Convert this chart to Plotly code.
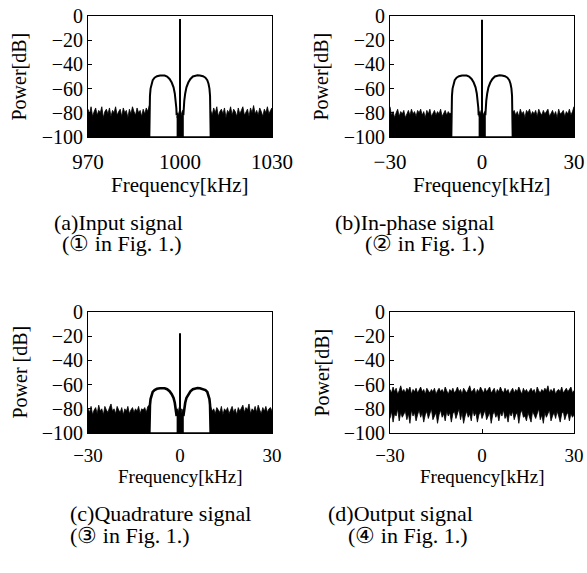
import numpy as np
import plotly.graph_objects as go

# figure fills the 587x573 window; the page's default body margin is removed
W, H = 587, 573
FONT = "Liberation Serif, Times New Roman, serif"

# ---------------- data ----------------
# noise floor, upper envelope (dB), sampled every 0.5 kHz
a_noise_left = [-77,-81,-75,-83,-79,-76,-82,-78,-80,-75,-84,-79,-77,-81,-76,-83,-78,-80,-75,-82,
                -79,-77,-83,-76,-80,-78,-84,-77,-81,-75,-79,-82,-76,-80,-78,-83,-77,-81,-76,-79,-74]
a_noise_right = [-78,-82,-76,-80,-75,-83,-79,-77,-81,-76,-84,-78,-80,-75,-82,-77,-79,-83,-76,-81,
                 -78,-75,-82,-79,-77,-83,-76,-80,-74,-81,-78,-82,-76,-79,-83,-77,-80,-75,-81,-78,-76]
a_noise_mid = [-84,-80,-82,-79,-81,-83,-80,-78,-82]

b_noise_left = [-75,-82,-79,-84,-80,-77,-83,-79,-81,-78,-84,-80,-78,-82,-77,-81,-79,-83,-78,-80,
                -77,-82,-79,-84,-78,-81,-77,-83,-80,-78,-82,-79,-81,-77,-83,-80,-78,-82,-79,-81,-80]
b_noise_right = [-80,-78,-82,-79,-83,-77,-81,-79,-84,-78,-80,-77,-82,-79,-81,-78,-83,-77,-80,-82,
                 -78,-81,-79,-77,-83,-80,-78,-82,-79,-84,-77,-81,-80,-78,-83,-79,-81,-77,-82,-79,-75]
b_noise_mid = [-83,-79,-81,-78,-84,-80,-82,-79,-81]

c_noise_left = [-80,-83,-78,-85,-81,-79,-84,-77,-82,-80,-85,-78,-81,-83,-79,-76,-82,-80,-84,-78,
                -81,-83,-79,-85,-80,-82,-78,-84,-81,-79,-83,-80,-82,-78,-84,-80,-81,-79,-83,-78,-77]
c_noise_right = [-78,-82,-80,-84,-79,-81,-83,-78,-85,-80,-82,-79,-84,-81,-78,-83,-80,-85,-79,-82,
                 -80,-77,-83,-79,-81,-76,-84,-80,-82,-78,-83,-77,-81,-84,-79,-82,-78,-83,-80,-79,-82]
c_noise_mid = [-84,-80,-83,-79,-82,-85,-80,-81,-84]

d_noise_top = [-64,-67,-62,-66,-63,-68,-65,-61,-66,-64,
               -67,-63,-65,-62,-68,-64,-66,-63,-67,-65,
               -62,-66,-64,-68,-63,-65,-67,-64,-66,-63,
               -68,-65,-63,-66,-64,-67,-62,-65,-68,-64,
               -66,-63,-67,-65,-62,-66,-64,-68,-63,-65,
               -67,-64,-61,-66,-65,-63,-68,-64,-66,-62,
               -65,-67,-63,-66,-64,-62,-67,-65,-63,-68,
               -64,-66,-62,-65,-67,-63,-66,-64,-68,-65,
               -63,-67,-64,-66,-62,-65,-68,-63,-66,-64,
               -67,-65,-63,-66,-64,-68,-62,-65,-67,-64,
               -66,-63,-65,-61,-67,-64,-66,-63,-68,-65,
               -64,-66,-62,-67,-65,-63,-66,-64,-62,-67,
               -65]
d_noise_bottom = [-88,-82,-91,-84,-86,-80,-90,-83,-87,-85,
                  -82,-89,-84,-92,-81,-86,-83,-90,-85,-81,
                  -87,-83,-91,-85,-82,-88,-84,-80,-89,-86,
                  -83,-92,-85,-81,-87,-84,-90,-82,-86,-83,
                  -91,-84,-82,-88,-85,-80,-89,-83,-92,-86,
                  -82,-87,-84,-90,-81,-86,-83,-91,-85,-82,
                  -88,-84,-81,-89,-86,-83,-92,-85,-82,-87,
                  -84,-90,-83,-86,-81,-88,-85,-91,-83,-86,
                  -82,-89,-85,-83,-92,-84,-81,-87,-86,-90,
                  -83,-86,-91,-82,-85,-88,-84,-80,-89,-85,
                  -92,-83,-87,-84,-81,-90,-86,-83,-88,-82,
                  -86,-91,-84,-82,-89,-85,-83,-90,-84,-87,
                  -85]

# signal lobe (left half, offset from centre in kHz) and its level (dB)
lobe_offset = [-10.0,-9.95,-9.9,-9.8,-9.6,-9.3,-8.9,-8.3,-7.5,-6.5,-5.7,-5.0,-4.2,-3.4,-2.7,-2.1,-1.7,-1.4,-1.2,-1.1]
lobe_ab = [-100,-85,-74,-66,-60,-56,-53,-51,-49.8,-49.2,-49,-49.2,-50,-52,-55,-59,-64,-70,-76,-82]
lobe_c = [-100,-90,-83,-77,-72,-68.5,-66,-64.5,-63.5,-63,-62.8,-63,-63.8,-65.5,-68,-71,-75,-79,-83,-86]

spike_level = {"a": -2.5, "b": -3.0, "c": -17.5}
centres = {"a": 1000, "b": 0, "c": 0}

x_ranges = {"a": [970, 1030], "b": [-30, 30], "c": [-30, 30], "d": [-30, 30]}
x_ticks = {"a": [970, 1000, 1030], "b": [-30, 0, 30], "c": [-30, 0, 30], "d": [-30, 0, 30]}
y_ticks = [0, -20, -40, -60, -80, -100]
y_titles = {"a": "Power[dB]", "b": "Power[dB]", "c": "Power [dB]", "d": "Power[dB]"}
x_title = "Frequency[kHz]"
captions = {
    "a": ["(a)Input signal", "(\u2460 in Fig. 1.)"],
    "b": ["(b)In-phase signal", "(\u2461 in Fig. 1.)"],
    "c": ["(c)Quadrature signal", "(\u2462 in Fig. 1.)"],
    "d": ["(d)Output signal", "(\u2463 in Fig. 1.)"],
}

# ---------------- layout (pixel boxes of plot areas) ----------------
boxes = {"a": (88, 272, 16, 137), "b": (390, 574, 16, 137),
         "c": (88, 272, 312, 433), "d": (390, 574, 312, 433)}
names = ["a", "b", "c", "d"]


def px_x(x):
    return x / W


def px_y(y):
    return 1 - y / H


fig = go.Figure()


def band(fig, xs, top, bottom, k):
    px = list(xs) + list(xs)[::-1]
    py = list(top) + list(bottom)[::-1]
    fig.add_trace(go.Scatter(x=px, y=py, fill="toself", fillcolor="black",
                             mode="lines", line=dict(color="black", width=0.8),
                             xaxis=f"x{k}", yaxis=f"y{k}", showlegend=False, hoverinfo="skip"))


for i, n in enumerate(names):
    k = "" if i == 0 else str(i + 1)
    if n == "d":
        xs = np.linspace(-30, 30, len(d_noise_top))
        band(fig, xs, d_noise_top, d_noise_bottom, k)
        continue
    c0 = centres[n]
    left = {"a": a_noise_left, "b": b_noise_left, "c": c_noise_left}[n]
    right = {"a": a_noise_right, "b": b_noise_right, "c": c_noise_right}[n]
    mid = {"a": a_noise_mid, "b": b_noise_mid, "c": c_noise_mid}[n]
    xl = np.linspace(c0 - 30, c0 - 10, len(left))
    xr = np.linspace(c0 + 10, c0 + 30, len(right))
    xm = np.linspace(c0 - 1.1, c0 + 1.1, len(mid))
    band(fig, xl, left, [-100] * len(left), k)
    band(fig, xr, right, [-100] * len(right), k)
    band(fig, xm, mid, [-100] * len(mid), k)
    lv = lobe_c if n == "c" else lobe_ab
    lw = 2.6 if n == "c" else 2.0
    lx = [c0 + o for o in lobe_offset]
    rx = [c0 - o for o in lobe_offset][::-1]
    for xx, yy in ((lx, lv), (rx, lv[::-1])):
        fig.add_trace(go.Scatter(x=xx, y=yy, mode="lines", line=dict(color="black", width=lw),
                                 xaxis=f"x{k}", yaxis=f"y{k}", showlegend=False, hoverinfo="skip"))
    # baseline under lobes
    fig.add_trace(go.Scatter(x=[c0 - 10, c0 + 10], y=[-100, -100], mode="lines",
                             line=dict(color="black", width=1.5),
                             xaxis=f"x{k}", yaxis=f"y{k}", showlegend=False, hoverinfo="skip"))
    # carrier spike
    fig.add_trace(go.Scatter(x=[c0, c0], y=[-100, spike_level[n]], mode="lines",
                             line=dict(color="black", width=2),
                             xaxis=f"x{k}", yaxis=f"y{k}", showlegend=False, hoverinfo="skip"))

layout = dict(width=W, height=H, autosize=False,
              margin=dict(l=0, r=0, t=0, b=0, pad=0, autoexpand=False),
              paper_bgcolor="white", plot_bgcolor="white", showlegend=False,
              font=dict(family=FONT, color="black", size=20))
annotations = []
for i, n in enumerate(names):
    k = "" if i == 0 else str(i + 1)
    x0, x1, y0, y1 = boxes[n]
    top_row = n in ("a", "b")
    layout[f"xaxis{k}"] = dict(domain=[px_x(x0), px_x(x1)], range=x_ranges[n], anchor=f"y{k}",
                               tickvals=x_ticks[n], ticks="inside", ticklen=4, tickcolor="black",
                               showline=True, mirror=True, linecolor="black", linewidth=1,
                               showgrid=False, zeroline=False,
                               ticklabelstandoff=6 if top_row else 5,
                               automargin=False, ticklabeloverflow="allow",
                               tickfont=dict(family=FONT, size=21 if top_row else 19))
    layout[f"yaxis{k}"] = dict(domain=[px_y(y1), px_y(y0)], range=[-100, 0], anchor=f"x{k}",
                               tickvals=y_ticks, ticks="inside", ticklen=4, tickcolor="black",
                               showline=True, mirror=True, linecolor="black", linewidth=1,
                               showgrid=False, zeroline=False, automargin=False,
                               ticklabeloverflow="allow",
                               tickfont=dict(family=FONT, size=20))
    ymid = (y0 + y1) / 2
    annotations.append(dict(text=y_titles[n], x=px_x(x0 - 69), y=px_y(ymid), xref="paper", yref="paper",
                            textangle=-90, showarrow=False, font=dict(family=FONT, size=20),
                            xanchor="center", yanchor="middle"))
    ty = y1 + (48 if top_row else 43)
    annotations.append(dict(text=x_title, x=px_x((x0 + x1) / 2), y=px_y(ty), xref="paper", yref="paper",
                            showarrow=False, font=dict(family=FONT, size=21 if top_row else 19),
                            xanchor="center", yanchor="middle"))

cap_pos = {"a": (118, 222, 122, 244), "b": (414, 222, 425, 244),
           "c": (160, 513, 130, 535), "d": (400, 513, 408, 535)}
for n in names:
    cx1, cy1, cx2, cy2 = cap_pos[n]
    annotations.append(dict(text=captions[n][0], x=px_x(cx1), y=px_y(cy1), xref="paper", yref="paper",
                            showarrow=False, font=dict(family=FONT, size=22),
                            xanchor="center", yanchor="middle"))
    annotations.append(dict(text=captions[n][1], x=px_x(cx2), y=px_y(cy2), xref="paper", yref="paper",
                            showarrow=False, font=dict(family=FONT, size=22),
                            xanchor="center", yanchor="middle"))
layout["annotations"] = annotations
fig.update_layout(**layout)
fig.write_html("out.html", config={"displayModeBar": False},
               post_script="document.body.style.margin='0px';")
